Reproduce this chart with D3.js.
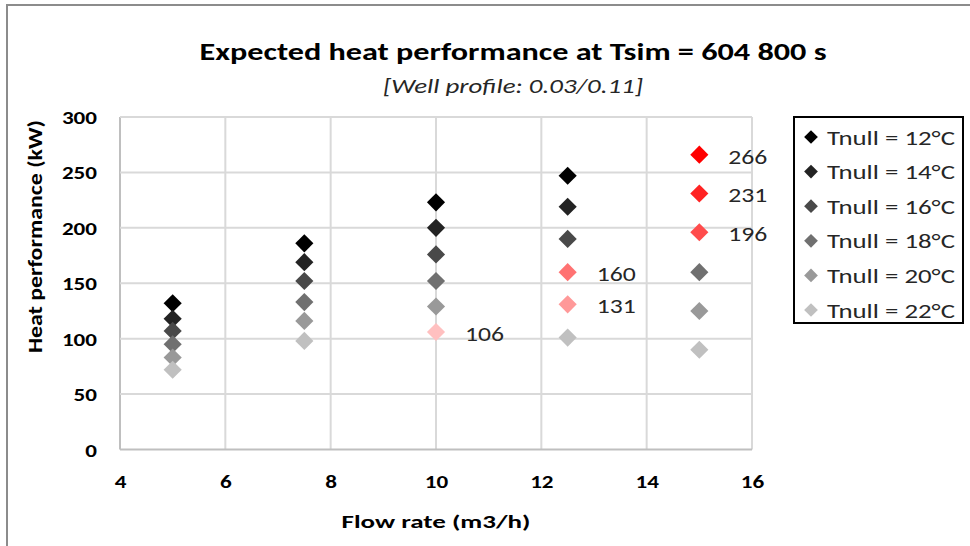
<!DOCTYPE html>
<html><head><meta charset="utf-8">
<script src="https://cdn.jsdelivr.net/npm/d3@7"></script>
<style>
html,body{margin:0;padding:0;background:#fff;}
svg{display:block;font-family:Carlito, Lato, "Open Sans", sans-serif;}
</style></head>
<body><svg id="c" width="970" height="546"></svg>
<script>
// ---- data ----
const flowRates = [5, 7.5, 10, 12.5, 15];
const seriesNames = ["Tnull = 12°C","Tnull = 14°C","Tnull = 16°C","Tnull = 18°C","Tnull = 20°C","Tnull = 22°C"];
const t12 = [132, 186, 223, 247, 266];
const t14 = [118, 169, 200, 219, 231];
const t16 = [107, 152, 176, 190, 196];
const t18 = [95, 133, 152, 160, 160];
const t20 = [83, 116, 129, 131, 125];
const t22 = [72, 98, 106, 101, 90];
const seriesValues = [t12, t14, t16, t18, t20, t22];
// labelled (highlighted) points: [series index, flow rate index]
const labelledPoints = [[0,4],[1,4],[2,4],[3,3],[4,3],[5,2]];
const xTicks = [4, 6, 8, 10, 12, 14, 16];
const yTicks = [0, 50, 100, 150, 200, 250, 300];

// ---- styles ----
const grays = ["#000000","#232323","#494949","#707070","#999999","#c0c0c0"];
const reds  = ["#ff0000","#ff2323","#ff4c4c","#ff7272","#ff9999","#ffc0c0"];

const svg = d3.select("#c");
function fit(sel, w){ sel.attr("textLength",w).attr("lengthAdjust","spacingAndGlyphs"); return sel; }

// outer border
svg.append("rect").attr("x",7).attr("y",5).attr("width",1000).attr("height",600)
  .attr("fill","#fff").attr("stroke","#8c8c8c").attr("stroke-width",2);

const L=120, R=752, T=117, B=449.5;
const x = d3.scaleLinear().domain([4,16]).range([L,R]);
const y = d3.scaleLinear().domain([0,300]).range([B,T]);

// gridlines
const g = svg.append("g");
g.selectAll("line.v").data(xTicks).join("line")
  .attr("x1",d=>x(d)).attr("x2",d=>x(d)).attr("y1",T).attr("y2",B)
  .attr("stroke",d=>d===4?"#bfbfbf":"#d9d9d9").attr("stroke-width",2);
g.selectAll("line.h").data(yTicks).join("line")
  .attr("x1",L).attr("x2",R).attr("y1",d=>y(d)).attr("y2",d=>y(d))
  .attr("stroke",d=>d===0?"#bfbfbf":"#d9d9d9").attr("stroke-width",2);

// axes
const xAxis = svg.append("g").attr("transform",`translate(0,${B})`)
  .call(d3.axisBottom(x).tickValues(xTicks).tickSize(0).tickPadding(25).tickFormat(d3.format("d")));
xAxis.select(".domain").remove();
xAxis.selectAll("text").attr("font-size",18).attr("font-weight","bold").attr("fill","#000")
  .attr("font-family","Carlito, Lato, sans-serif").attr("dy",null).attr("y",38.5)
  .each(function(d){ fit(d3.select(this), String(d).length*11.7); });
const yAxis = svg.append("g").attr("transform",`translate(${L},0)`)
  .call(d3.axisLeft(y).tickValues(yTicks).tickSize(0).tickPadding(23).tickFormat(d3.format("d")));
yAxis.select(".domain").remove();
yAxis.selectAll("text").attr("font-size",18).attr("font-weight","bold").attr("fill","#000")
  .attr("font-family","Carlito, Lato, sans-serif").attr("dy",null).attr("y",6.5)
  .each(function(d){ fit(d3.select(this), String(d).length*11.7); });

// points
const isLab = (s,i)=>labelledPoints.some(p=>p[0]===s&&p[1]===i);
seriesValues.forEach((vals,s)=>{
  svg.append("g").selectAll("path").data(vals.map((v,i)=>({v,i,f:flowRates[i]}))).join("path")
    .attr("d",d3.symbol().type(d3.symbolDiamond2).size(210)())
    .attr("transform",d=>`translate(${x(d.f)},${y(d.v)})`)
    .attr("fill",d=>isLab(s,d.i)?reds[s]:grays[s]);
});
// data labels
svg.append("g").selectAll("text").data(labelledPoints).join("text")
  .attr("x",d=>x(flowRates[d[1]])+29)
  .attr("y",d=>y(seriesValues[d[0]][d[1]])+9)
  .attr("font-size",20).attr("fill","#262626")
  .text(d=>seriesValues[d[0]][d[1]])
  .each(function(){ fit(d3.select(this), 39); });

// titles
fit(svg.append("text").attr("x",513).attr("y",60).attr("text-anchor","middle")
  .attr("font-size",25).attr("font-weight","bold").attr("fill","#000")
  .text("Expected heat performance at Tsim = 604 800 s"), 627);
fit(svg.append("text").attr("x",513).attr("y",93).attr("text-anchor","middle")
  .attr("font-size",21).attr("font-style","italic").attr("fill","#262626")
  .text("[Well profile: 0.03/0.11]"), 260);
fit(svg.append("text").attr("x",436).attr("y",528).attr("text-anchor","middle")
  .attr("font-size",19).attr("font-weight","bold").attr("fill","#000")
  .text("Flow rate (m3/h)"), 189);
fit(svg.append("text").attr("transform","translate(41.5,236.5) rotate(-90)").attr("text-anchor","middle")
  .attr("font-size",20).attr("font-weight","bold").attr("fill","#000")
  .text("Heat performance (kW)"), 233);

// legend
const lg = svg.append("g");
lg.append("rect").attr("x",794).attr("y",117).attr("width",169).attr("height",206)
  .attr("fill","#fff").attr("stroke","#000").attr("stroke-width",2);
const ly = d3.scalePoint().domain(seriesNames).range([137,310]);
seriesNames.forEach((n,s)=>{
  lg.append("path").attr("d",d3.symbol().type(d3.symbolDiamond2).size(120)())
    .attr("transform",`translate(811,${ly(n)})`).attr("fill",grays[s]);
  fit(lg.append("text").attr("x",827).attr("y",ly(n)+7.5).attr("font-size",21).attr("fill","#262626").text(n), 128);
});
</script></body></html>
